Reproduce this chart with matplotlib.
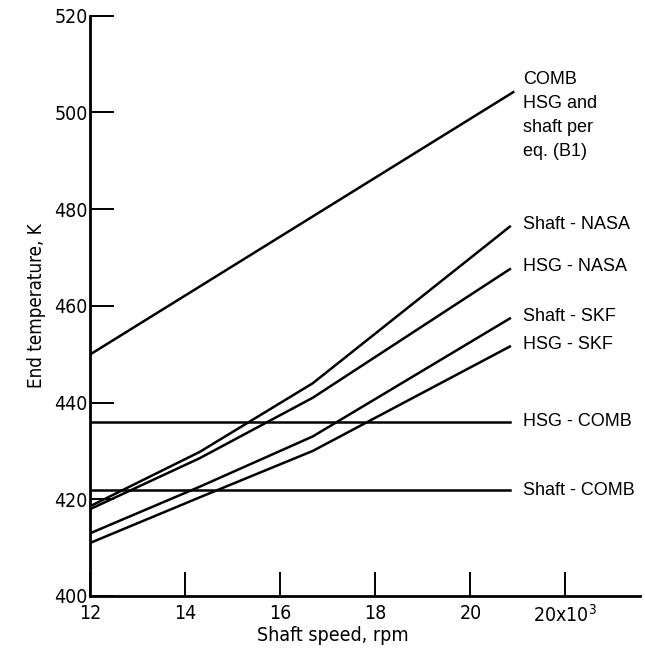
import matplotlib
matplotlib.use('Agg')
import matplotlib.pyplot as plt

# shaft speed in thousands of rpm, end temperature in K
comb_speed = [12, 20.9]
comb_temp = [450, 504.2]

curve_speed = [12, 14.3, 16.68, 20.83]
shaft_nasa = [418.6, 429.8, 444, 476.4]
hsg_nasa = [418, 428.5, 441, 467.6]
shaft_skf = [413, 422.6, 433, 457.4]
hsg_skf = [411, 420.4, 430, 451.6]

flat_speed = [12, 20.83]
hsg_comb = 436
shaft_comb = 421.9

comb_label = ['COMB', 'HSG and', 'shaft per', 'eq. (B1)']
curve_labels = ['Shaft - NASA', 'HSG - NASA', 'Shaft - SKF', 'HSG - SKF']

xticks = [12, 14, 16, 18, 20, 22]
xticklabels = ['12', '14', '16', '18', '20', r'20x10$^3$']
yticks = [400, 420, 440, 460, 480, 500, 520]

plt.rcParams['font.family'] = ['DejaVu Sans']
plt.rcParams['font.stretch'] = 'condensed'
plt.rcParams['mathtext.fontset'] = 'custom'

fig = plt.figure(figsize=(6.45, 6.49), dpi=100)
ax = fig.add_axes([0.1403, 0.0817, 0.852, 0.894])

lw = 1.8
ax.plot(comb_speed, comb_temp, color='black', lw=lw)
for temps in [shaft_nasa, hsg_nasa, shaft_skf, hsg_skf]:
    ax.plot(curve_speed, temps, color='black', lw=lw)
ax.plot(flat_speed, [hsg_comb, hsg_comb], color='black', lw=lw)
ax.plot(flat_speed, [shaft_comb, shaft_comb], color='black', lw=lw)

# labels at the right-hand ends of the curves
lab = dict(fontsize=13, va='center', ha='left',
           family=['Liberation Sans', 'DejaVu Sans'], stretch='normal')
lx = 21.1
ax.text(lx, comb_temp[-1] - 4.8, '\n'.join(comb_label), linespacing=1.55, **lab)
for temps, name in zip([shaft_nasa, hsg_nasa, shaft_skf, hsg_skf], curve_labels):
    ax.text(lx, temps[-1] + 0.5, name, **lab)
ax.text(lx, hsg_comb, 'HSG - COMB', **lab)
ax.text(lx, shaft_comb, 'Shaft - COMB', **lab)

ax.set_xlim(12, 23.57)
ax.set_ylim(400, 520)
ax.set_xticks(xticks)
ax.set_xticklabels(xticklabels)
ax.set_yticks(yticks)
ax.tick_params(axis='both', direction='in', length=17, width=1.4,
               labelsize=14, pad=2, color='black')
ax.tick_params(axis='x', pad=6)

for side in ['top', 'right']:
    ax.spines[side].set_visible(False)
for side in ['left', 'bottom']:
    ax.spines[side].set_linewidth(2)

ax.set_xlabel('Shaft speed, rpm', fontsize=14, labelpad=0, x=0.441)
ax.set_ylabel('End temperature, K', fontsize=13.5, labelpad=6)

plt.savefig('out.png', dpi=100)
